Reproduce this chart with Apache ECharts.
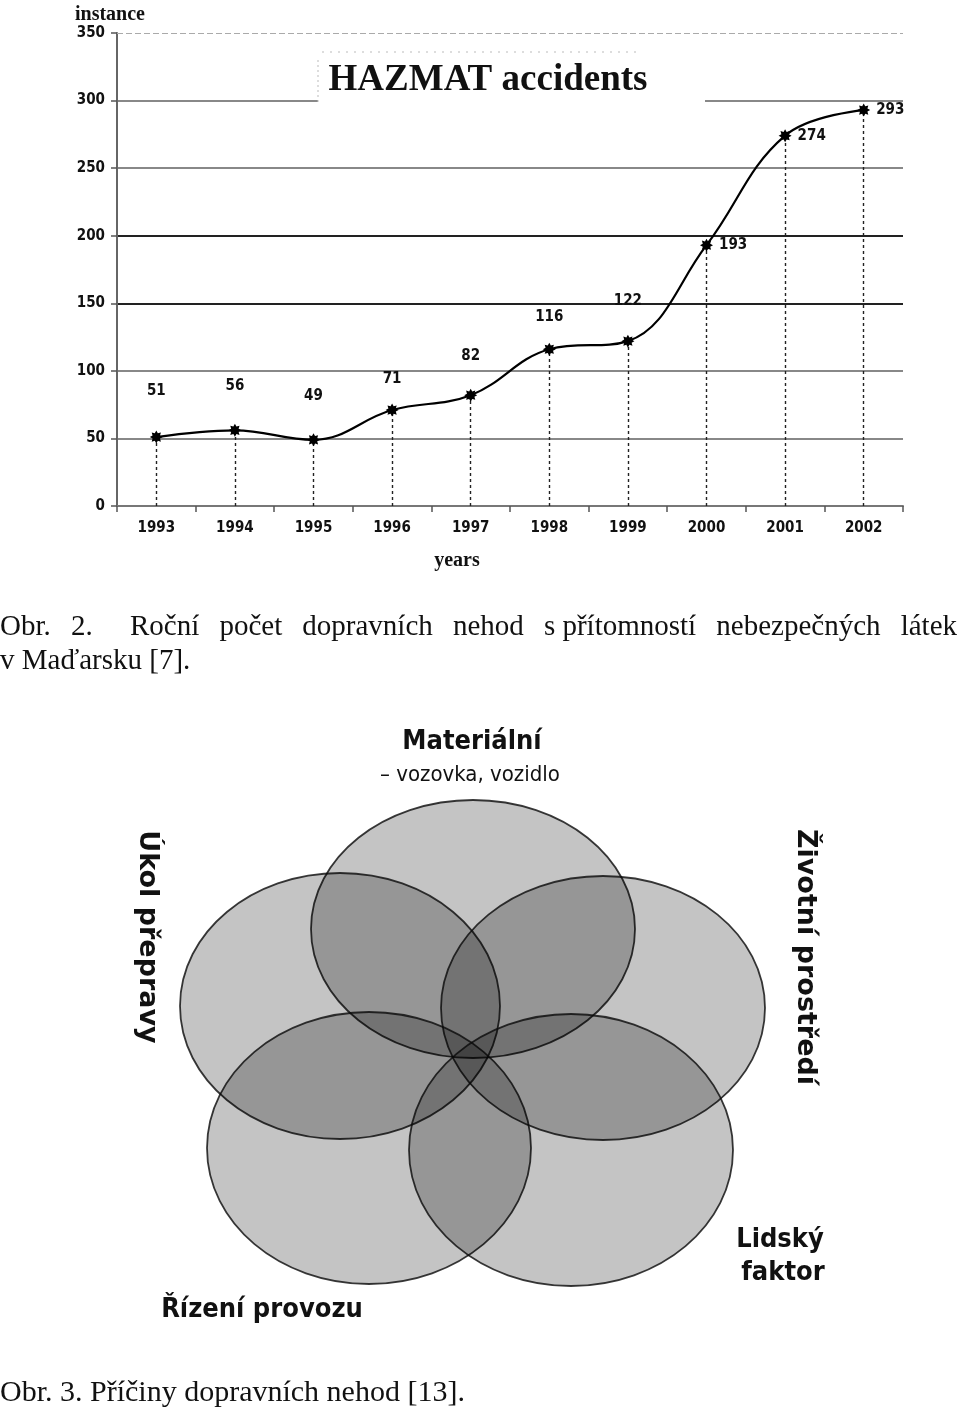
<!DOCTYPE html>
<html><head><meta charset="utf-8">
<script src="https://cdn.jsdelivr.net/npm/echarts@6/dist/echarts.min.js"></script>
<style>html,body{margin:0;padding:0;background:#fff}#c{width:960px;height:1411px}</style>
</head><body><div id="c"></div>
<script>
// ---- data ----
const years = ['1993','1994','1995','1996','1997','1998','1999','2000','2001','2002'];
const accidents = [51, 56, 49, 71, 82, 116, 122, 193, 274, 293];
const yTickMin = 0, yTickMax = 350, yTickStep = 50;
const chartTitle = 'HAZMAT accidents';
const yName = 'instance';
const xName = 'years';
const caption1Lead = ['Obr.', '2.'];
const caption1Words = ['Roční', 'počet', 'dopravních', 'nehod', 's\u00a0přítomností', 'nebezpečných', 'látek'];
const caption1b = 'v Maďarsku [7].';
const vennTop = 'Materiální';
const vennTopSub = '– vozovka, vozidlo';
const vennLeft = 'Úkol přepravy';
const vennRight = 'Životní prostředí';
const vennBottomRight = ['Lidský', 'faktor'];
const vennBottomLeft = 'Řízení provozu';
const caption2 = 'Obr. 3. Příčiny dopravních nehod [13].';

// ---- layout / style (not data) ----
const NARROW = '"Liberation Sans Narrow","Arial Narrow","DejaVu Sans Condensed",sans-serif';
const SERIF = '"Liberation Serif","Times New Roman",serif';
const CAP_FONT = '29px ' + SERIF;
const labelDist = [32, 30, 30, 17, 25, 18, 26];
const ellipses = [
  {cx: 473, cy: 929, rx: 162, ry: 129},
  {cx: 340, cy: 1006, rx: 160, ry: 133},
  {cx: 603, cy: 1008, rx: 162, ry: 132},
  {cx: 369, cy: 1148, rx: 162, ry: 136},
  {cx: 571, cy: 1150, rx: 162, ry: 136}
];

function starPath() {
  let d = '';
  for (let k = 0; k < 16; k++) {
    const r = k % 2 ? 0.62 : 1;
    const a = k * Math.PI / 8;
    d += (k ? 'L' : 'M') + (r * Math.cos(a)).toFixed(3) + ' ' + (r * Math.sin(a)).toFixed(3);
  }
  return 'path://' + d + 'Z';
}

const gridColors = ['#888', '#888', '#888', '#222', '#222', '#888', '#888', 'rgba(0,0,0,0)'];

const graphics = [];
function txt(x, y, text, font, align, extra) {
  graphics.push(Object.assign({type: 'text', z: 52, x: x, y: y,
    style: {text: text, font: font, fill: '#111', textAlign: align || 'center', textVerticalAlign: 'middle'}}, extra || {}));
}
// title box
graphics.push({type: 'rect', z: 50, shape: {x: 318, y: 44, width: 387, height: 60}, style: {fill: '#fff'}});
graphics.push({type: 'line', z: 51, shape: {x1: 322, y1: 52, x2: 640, y2: 52}, style: {stroke: '#bbb', lineWidth: 1, lineDash: [2, 6]}});
graphics.push({type: 'line', z: 51, shape: {x1: 318, y1: 60, x2: 318, y2: 102}, style: {stroke: '#bbb', lineWidth: 1, lineDash: [2, 3]}});
txt(488, 80, chartTitle, 'bold 37px ' + SERIF);
txt(110, 15, yName, 'bold 20px ' + SERIF);
txt(457, 561, xName, 'bold 20px ' + SERIF);

// caption 1 (justified line)
const mctx = document.createElement('canvas').getContext('2d');
mctx.font = CAP_FONT;
txt(0, 627, caption1Lead[0], CAP_FONT, 'left');
txt(71, 627, caption1Lead[1], CAP_FONT, 'left');
(function () {
  const left = 130, right = 957;
  const widths = caption1Words.map(w => mctx.measureText(w).width);
  const total = widths.reduce((a, b) => a + b, 0);
  const gap = (right - left - total) / (caption1Words.length - 1);
  let x = left;
  caption1Words.forEach((w, i) => { txt(x, 627, w, CAP_FONT, 'left'); x += widths[i] + gap; });
})();
txt(0, 661, caption1b, CAP_FONT, 'left');

// venn ellipses
ellipses.forEach(e => {
  graphics.push({type: 'ellipse', z: 5, shape: {cx: e.cx, cy: e.cy, rx: e.rx, ry: e.ry},
    style: {fill: 'rgba(0,0,0,0.23)', stroke: 'rgba(10,10,10,0.8)', lineWidth: 1.8}});
});
// venn labels
txt(472, 742, vennTop, 'bold 27px ' + NARROW);
txt(470, 775, vennTopSub, '22px ' + NARROW);
txt(147, 937, vennLeft, 'bold 27px "DejaVu Sans",sans-serif', 'center', {rotation: -Math.PI / 2});
txt(805, 957, vennRight, 'bold 27px "DejaVu Sans",sans-serif', 'center', {rotation: -Math.PI / 2});
txt(780, 1240, vennBottomRight[0], 'bold 27px ' + NARROW);
txt(783, 1273, vennBottomRight[1], 'bold 27px ' + NARROW);
txt(262, 1310, vennBottomLeft, 'bold 27px ' + NARROW);
txt(0, 1393, caption2, '30px ' + SERIF, 'left');

const chart = echarts.init(document.getElementById('c'), null, {renderer: 'canvas'});
chart.setOption({
  animation: false,
  backgroundColor: '#fff',
  grid: {left: 117, right: 57, top: 33, bottom: 905, containLabel: false, outerBoundsMode: 'none'},
  xAxis: {
    type: 'category', data: years, boundaryGap: true,
    axisLine: {lineStyle: {color: '#777', width: 2}},
    axisTick: {show: true, length: 6, lineStyle: {color: '#555', width: 1.5}},
    axisLabel: {margin: 15, fontFamily: NARROW, fontWeight: 'bold', fontSize: 15, color: '#111'},
    splitLine: {show: false}
  },
  yAxis: {
    type: 'value', min: yTickMin, max: yTickMax, interval: yTickStep,
    axisLine: {show: true, lineStyle: {color: '#666', width: 2}},
    axisTick: {show: true, length: 6, lineStyle: {color: '#555', width: 1.5}},
    axisLabel: {margin: 12, fontFamily: NARROW, fontWeight: 'bold', fontSize: 15, color: '#111'},
    splitLine: {show: true, lineStyle: {color: gridColors, width: 2}}
  },
  graphic: graphics,
  series: [{
    type: 'line',
    data: accidents.map((v, i) => ({
      value: v,
      label: i >= 7 ? {position: 'right', distance: 6} : {position: 'top', distance: labelDist[i]}
    })),
    smooth: 0.4,
    symbol: starPath(),
    symbolSize: 13,
    lineStyle: {color: '#000', width: 2.2},
    itemStyle: {color: '#000'},
    z: 10,
    label: {show: true, formatter: '{c}', fontFamily: NARROW, fontWeight: 'bold', fontSize: 15, color: '#111'},
    markLine: {
      silent: true, symbol: 'none', label: {show: false},
      lineStyle: {type: [3, 3], color: '#222', width: 1.4},
      data: accidents.map((v, i) => [{coord: [i, 0]}, {coord: [i, v]}]).concat([
        {yAxis: yTickMax, lineStyle: {type: [6, 3], color: '#aaa', width: 1}}
      ])
    }
  }]
});
</script></body></html>
